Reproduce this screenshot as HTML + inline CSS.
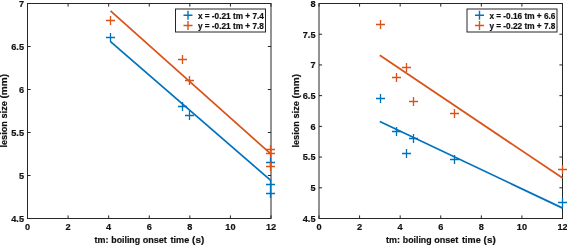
<!DOCTYPE html>
<html><head><meta charset="utf-8"><title>plot</title>
<style>
html,body{margin:0;padding:0;background:#fff;}
svg{display:block;will-change:transform;}
text{font-family:"Liberation Sans",sans-serif;font-weight:bold;fill:#111;stroke:#111;stroke-width:0.2px;}
.tk{font-size:9.9px;}
.lb{font-size:9.6px;}
.lg{font-size:8.5px;}
</style></head><body>
<svg width="567" height="245" viewBox="0 0 567 245">
<rect width="567" height="245" fill="#fff"/>
<rect x="27.5" y="3.5" width="243.5" height="215.0" fill="#fff" stroke="#262626" stroke-width="1"/>
<text transform="translate(27.5,230.4) scale(0.93,1)" text-anchor="middle" class="tk">0</text>
<text transform="translate(68.08,230.4) scale(0.93,1)" text-anchor="middle" class="tk">2</text>
<text transform="translate(108.67,230.4) scale(0.93,1)" text-anchor="middle" class="tk">4</text>
<text transform="translate(149.25,230.4) scale(0.93,1)" text-anchor="middle" class="tk">6</text>
<text transform="translate(189.83,230.4) scale(0.93,1)" text-anchor="middle" class="tk">8</text>
<text transform="translate(230.42,230.4) scale(0.93,1)" text-anchor="middle" class="tk">10</text>
<text transform="translate(271,230.4) scale(0.93,1)" text-anchor="middle" class="tk">12</text>
<text transform="translate(24,221.8) scale(0.93,1)" text-anchor="end" class="tk">4.5</text>
<text transform="translate(24,178.8) scale(0.93,1)" text-anchor="end" class="tk">5</text>
<text transform="translate(24,135.8) scale(0.93,1)" text-anchor="end" class="tk">5.5</text>
<text transform="translate(24,92.8) scale(0.93,1)" text-anchor="end" class="tk">6</text>
<text transform="translate(24,49.8) scale(0.93,1)" text-anchor="end" class="tk">6.5</text>
<text transform="translate(24,6.8) scale(0.93,1)" text-anchor="end" class="tk">7</text>
<path d="M27.5 218.5v-3.1M27.5 3.5v3.1M68.08 218.5v-3.1M68.08 3.5v3.1M108.67 218.5v-3.1M108.67 3.5v3.1M149.25 218.5v-3.1M149.25 3.5v3.1M189.83 218.5v-3.1M189.83 3.5v3.1M230.42 218.5v-3.1M230.42 3.5v3.1M271 218.5v-3.1M271 3.5v3.1M27.5 218.5h3.1M271.0 218.5h-3.1M27.5 175.5h3.1M271.0 175.5h-3.1M27.5 132.5h3.1M271.0 132.5h-3.1M27.5 89.5h3.1M271.0 89.5h-3.1M27.5 46.5h3.1M271.0 46.5h-3.1M27.5 3.5h3.1M271.0 3.5h-3.1" stroke="#262626" stroke-width="1" fill="none"/>
<line x1="110.5" y1="41.7" x2="271" y2="180.7" stroke="#0072BD" stroke-width="1.75"/>
<line x1="110.5" y1="10.8" x2="271" y2="154.2" stroke="#D95319" stroke-width="1.75"/>
<path d="M106 37.5h9.0M110.5 33v9.0M178 106.5h9.0M182.5 102v9.0M185 115.5h9.0M189.5 111v9.0M266 162.5h9.0M270.5 158v9.0M266 184.5h9.0M270.5 180v9.0M266 193.5h9.0M270.5 189v9.0" stroke="#0072BD" stroke-width="1.3" fill="none"/>
<path d="M106 20.5h9.0M110.5 16v9.0M178 59.5h9.0M182.5 55v9.0M185 80.5h9.0M189.5 76v9.0M266 149.5h9.0M270.5 145v9.0M266 153.5h9.0M270.5 149v9.0M266 166.5h9.0M270.5 162v9.0" stroke="#D95319" stroke-width="1.3" fill="none"/>
<text x="94.5" y="242.9" class="lb" textLength="13.9" lengthAdjust="spacingAndGlyphs">tm:</text>
<text x="111.3" y="242.9" class="lb" textLength="28.8" lengthAdjust="spacingAndGlyphs">boiling</text>
<text x="142.7" y="242.9" class="lb" textLength="24.2" lengthAdjust="spacingAndGlyphs">onset</text>
<text x="170.5" y="242.9" class="lb" textLength="18.7" lengthAdjust="spacingAndGlyphs">time</text>
<text x="192.1" y="242.9" class="lb" textLength="12.1" lengthAdjust="spacingAndGlyphs">(s)</text>
<text transform="translate(7.1,147.6) rotate(-90)" class="lb" textLength="26.5" lengthAdjust="spacingAndGlyphs">lesion</text>
<text transform="translate(7.1,118.5) rotate(-90)" class="lb" textLength="17.4" lengthAdjust="spacingAndGlyphs">size</text>
<text transform="translate(7.1,98.6) rotate(-90)" class="lb" textLength="24.7" lengthAdjust="spacingAndGlyphs">(mm)</text>
<rect x="175.5" y="9" width="90.0" height="23" fill="#fff" stroke="#262626" stroke-width="1"/>
<path d="M183.5 15.3h9.0M188 10.8v9.0" stroke="#0072BD" stroke-width="1.4" fill="none"/>
<text x="197.9" y="18.6" class="lg" textLength="66" lengthAdjust="spacingAndGlyphs">x = -0.21 tm + 7.4</text>
<path d="M183.5 25.5h9.0M188 21.0v9.0" stroke="#D95319" stroke-width="1.4" fill="none"/>
<text x="197.9" y="28.8" class="lg" textLength="66" lengthAdjust="spacingAndGlyphs">y = -0.21 tm + 7.8</text>
<rect x="319.0" y="3.5" width="243.5" height="215.0" fill="#fff" stroke="#262626" stroke-width="1"/>
<text transform="translate(319,230.4) scale(0.93,1)" text-anchor="middle" class="tk">0</text>
<text transform="translate(359.58,230.4) scale(0.93,1)" text-anchor="middle" class="tk">2</text>
<text transform="translate(400.17,230.4) scale(0.93,1)" text-anchor="middle" class="tk">4</text>
<text transform="translate(440.75,230.4) scale(0.93,1)" text-anchor="middle" class="tk">6</text>
<text transform="translate(481.33,230.4) scale(0.93,1)" text-anchor="middle" class="tk">8</text>
<text transform="translate(521.92,230.4) scale(0.93,1)" text-anchor="middle" class="tk">10</text>
<text transform="translate(562.5,230.4) scale(0.93,1)" text-anchor="middle" class="tk">12</text>
<text transform="translate(315.5,221.8) scale(0.93,1)" text-anchor="end" class="tk">4.5</text>
<text transform="translate(315.5,191.09) scale(0.93,1)" text-anchor="end" class="tk">5</text>
<text transform="translate(315.5,160.37) scale(0.93,1)" text-anchor="end" class="tk">5.5</text>
<text transform="translate(315.5,129.66) scale(0.93,1)" text-anchor="end" class="tk">6</text>
<text transform="translate(315.5,98.94) scale(0.93,1)" text-anchor="end" class="tk">6.5</text>
<text transform="translate(315.5,68.23) scale(0.93,1)" text-anchor="end" class="tk">7</text>
<text transform="translate(315.5,37.51) scale(0.93,1)" text-anchor="end" class="tk">7.5</text>
<text transform="translate(315.5,6.8) scale(0.93,1)" text-anchor="end" class="tk">8</text>
<path d="M319 218.5v-3.1M319 3.5v3.1M359.58 218.5v-3.1M359.58 3.5v3.1M400.17 218.5v-3.1M400.17 3.5v3.1M440.75 218.5v-3.1M440.75 3.5v3.1M481.33 218.5v-3.1M481.33 3.5v3.1M521.92 218.5v-3.1M521.92 3.5v3.1M562.5 218.5v-3.1M562.5 3.5v3.1M319.0 218.5h3.1M562.5 218.5h-3.1M319.0 187.79h3.1M562.5 187.79h-3.1M319.0 157.07h3.1M562.5 157.07h-3.1M319.0 126.36h3.1M562.5 126.36h-3.1M319.0 95.64h3.1M562.5 95.64h-3.1M319.0 64.93h3.1M562.5 64.93h-3.1M319.0 34.21h3.1M562.5 34.21h-3.1M319.0 3.5h3.1M562.5 3.5h-3.1" stroke="#262626" stroke-width="1" fill="none"/>
<line x1="379.8" y1="121.5" x2="562.6" y2="208.1" stroke="#0072BD" stroke-width="1.75"/>
<line x1="379.8" y1="55.2" x2="562.6" y2="178.1" stroke="#D95319" stroke-width="1.75"/>
<path d="M376 98.5h9.0M380.5 94v9.0M392 131.5h9.0M396.5 127v9.0M409 138.5h9.0M413.5 134v9.0M402 153.5h9.0M406.5 149v9.0M450 159.5h9.0M454.5 155v9.0M558 202.5h9.0M562.5 198v9.0" stroke="#0072BD" stroke-width="1.3" fill="none"/>
<path d="M376 24.5h9.0M380.5 20v9.0M402 67.5h9.0M406.5 63v9.0M392 77.5h9.0M396.5 73v9.0M409 101.5h9.0M413.5 97v9.0M450 113.5h9.0M454.5 109v9.0M558 169.5h9.0M562.5 165v9.0" stroke="#D95319" stroke-width="1.3" fill="none"/>
<text x="386" y="242.9" class="lb" textLength="13.9" lengthAdjust="spacingAndGlyphs">tm:</text>
<text x="402.8" y="242.9" class="lb" textLength="28.8" lengthAdjust="spacingAndGlyphs">boiling</text>
<text x="434.2" y="242.9" class="lb" textLength="24.2" lengthAdjust="spacingAndGlyphs">onset</text>
<text x="462" y="242.9" class="lb" textLength="18.7" lengthAdjust="spacingAndGlyphs">time</text>
<text x="483.6" y="242.9" class="lb" textLength="12.1" lengthAdjust="spacingAndGlyphs">(s)</text>
<text transform="translate(298.6,147.6) rotate(-90)" class="lb" textLength="26.5" lengthAdjust="spacingAndGlyphs">lesion</text>
<text transform="translate(298.6,118.5) rotate(-90)" class="lb" textLength="17.4" lengthAdjust="spacingAndGlyphs">size</text>
<text transform="translate(298.6,98.6) rotate(-90)" class="lb" textLength="24.7" lengthAdjust="spacingAndGlyphs">(mm)</text>
<rect x="467" y="9" width="90" height="23" fill="#fff" stroke="#262626" stroke-width="1"/>
<path d="M475 15.3h9.0M479.5 10.8v9.0" stroke="#0072BD" stroke-width="1.4" fill="none"/>
<text x="489.4" y="18.6" class="lg" textLength="66" lengthAdjust="spacingAndGlyphs">x = -0.16 tm + 6.6</text>
<path d="M475 25.5h9.0M479.5 21.0v9.0" stroke="#D95319" stroke-width="1.4" fill="none"/>
<text x="489.4" y="28.8" class="lg" textLength="66" lengthAdjust="spacingAndGlyphs">y = -0.22 tm + 7.8</text>
</svg>
</body></html>
